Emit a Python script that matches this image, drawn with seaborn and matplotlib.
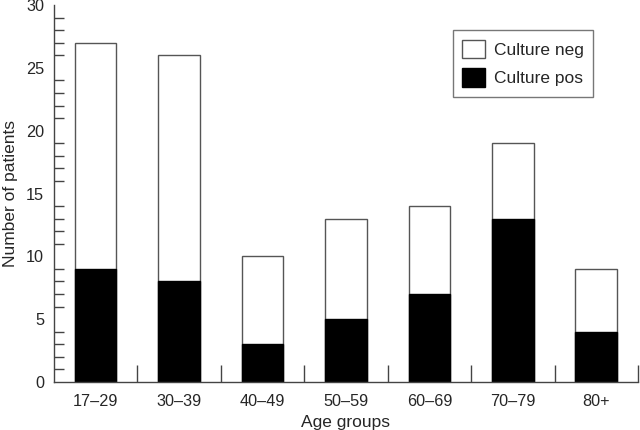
import matplotlib
matplotlib.use("Agg")
import matplotlib.pyplot as plt
from matplotlib.ticker import MultipleLocator, FixedLocator
import seaborn as sns
import pandas as pd

age_groups = ["17–29", "30–39", "40–49", "50–59", "60–69", "70–79", "80+"]
culture_pos = [9, 8, 3, 5, 7, 13, 4]
culture_neg = [18, 18, 7, 8, 7, 6, 5]

totals = [p + n for p, n in zip(culture_pos, culture_neg)]
df = pd.DataFrame({"age": age_groups, "pos": culture_pos, "total": totals})

sns.set_style("white")
plt.rcParams["font.family"] = ["Liberation Sans", "DejaVu Sans"]

fig = plt.figure(figsize=(6.4, 4.3), dpi=100)
ax = fig.add_axes([0.084, 0.112, 0.913, 0.876])

edge = "#555555"
sns.barplot(data=df, x="age", y="total", color="white", edgecolor=edge,
            linewidth=1.0, width=0.5, saturation=1, label="Culture neg", ax=ax)
sns.barplot(data=df, x="age", y="pos", color="black", edgecolor="black",
            linewidth=1.0, width=0.5, saturation=1, label="Culture pos", ax=ax)

ax.set_xlim(-0.5, 6.5)
ax.set_ylim(0, 30)
ax.set_xlabel("Age groups", fontsize=12.5, labelpad=4)
ax.set_ylabel("Number of patients", fontsize=12.5, labelpad=6)

ax.yaxis.set_major_locator(MultipleLocator(5))
ax.yaxis.set_minor_locator(MultipleLocator(1))
ax.tick_params(axis="y", which="major", direction="in", length=13, width=1,
               color="#444444", labelsize=11.7, pad=7)
ax.tick_params(axis="y", which="minor", direction="in", length=7, width=1,
               color="#444444", left=True)
ax.tick_params(axis="x", which="major", length=0, labelsize=11.7, pad=9)
ax.xaxis.set_minor_locator(FixedLocator([0.5, 1.5, 2.5, 3.5, 4.5, 5.5, 6.5]))
ax.tick_params(axis="x", which="minor", direction="in", length=12, width=1,
               color="#444444", bottom=True)

for side in ["top", "right"]:
    ax.spines[side].set_visible(False)
for side in ["left", "bottom"]:
    ax.spines[side].set_color("#444444")
    ax.spines[side].set_linewidth(1)

leg = ax.legend(loc="upper right", bbox_to_anchor=(0.923, 0.934), fontsize=12.5,
                frameon=True, fancybox=False, edgecolor="#555555",
                handlelength=1.3, handleheight=1.3, labelspacing=0.55,
                borderpad=0.55, handletextpad=0.5, borderaxespad=0)
leg.get_frame().set_linewidth(1)

fig.savefig("out.png", dpi=100)
